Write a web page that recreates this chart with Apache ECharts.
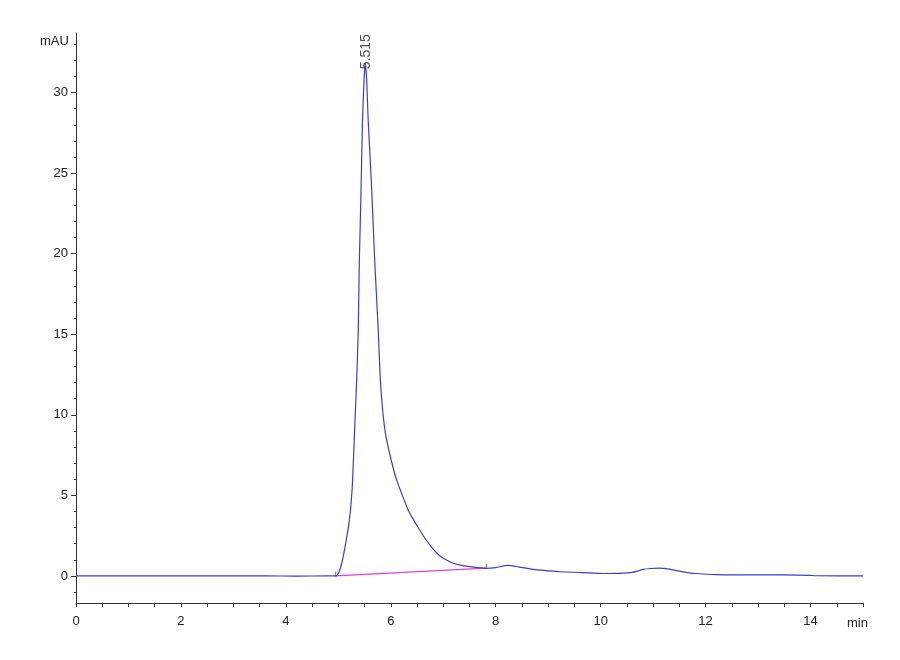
<!DOCTYPE html>
<html lang="en">
<head>
    <meta charset="UTF-8">
    <title>chromatogram</title>
    <script src="https://cdn.jsdelivr.net/npm/echarts@6/dist/echarts.min.js"></script>
    <style>
        html, body { margin: 0; padding: 0; background: #fff; }
    </style>
</head>
<body>
    <div id="main" style="width:900px;height:660px;"></div>
    <script>
        // signal trace (min, mAU)
        let times = [0, 1, 2, 3, 3.6, 4.2, 4.8, 4.95, 5.0, 5.05, 5.09, 5.13, 5.17, 5.20, 5.24, 5.27, 5.31, 5.35, 5.38, 5.40, 5.43, 5.46, 5.49, 5.515,
            5.54, 5.57, 5.63, 5.69, 5.76, 5.80, 5.85, 5.90, 5.95, 6.03, 6.11, 6.22, 6.33, 6.44, 6.55, 6.68, 6.8, 6.9, 7.0, 7.19, 7.35, 7.5,
            7.65, 7.82, 8.0, 8.23, 8.45, 8.71, 9.0, 9.22, 9.66, 10.04, 10.43, 10.6, 10.7, 10.81, 10.95, 11.12, 11.3, 11.44, 11.62,
            11.82, 12.2, 12.84, 13.47, 13.98, 14.1, 15];
        let mAU = [0, 0, 0, 0, 0, -0.01, 0, 0, 0.15, 0.6, 1.15, 1.85, 2.6, 3.2, 4.4, 5.8, 9.07, 12.2, 15.3, 19.5, 23.5, 28.2, 30.8, 31.8,
            30.8, 28.2, 24.4, 19.8, 15.3, 12.2, 10.1, 8.8, 8.0, 6.9, 5.96, 5.0, 4.1, 3.45, 2.85, 2.2, 1.7, 1.35, 1.1, 0.79, 0.65, 0.58,
            0.52, 0.47, 0.52, 0.65, 0.55, 0.41, 0.32, 0.26, 0.21, 0.15, 0.17, 0.22, 0.3, 0.41, 0.46, 0.48, 0.42, 0.33, 0.22,
            0.15, 0.08, 0.06, 0.06, 0.04, 0.01, 0];

        // integration baseline under the main peak
        let baseT = [4.95, 7.82];
        let baseY = [0, 0.48];
        let peakT = 5.515;
        let peakY = 31.8;
        let peakName = '5.515';

        // axis ticks / labels
        let xTicks = [];
        for (let v = 0; v <= 15; v += 0.5) xTicks.push(v);
        let xLabels = [0, 2, 4, 6, 8, 10, 12, 14];
        let yLabels = [0, 5, 10, 15, 20, 25, 30];
        let yMinor = [-1, 0, 1, 2, 3, 4, 5, 6, 7, 8, 9, 10, 11, 12, 13, 14, 15, 16, 17, 18, 19, 20, 21, 22, 23, 24, 25, 26, 27, 28, 29, 30, 31, 32, 33];

        let trace = times.map(function (t, i) { return [t, mAU[i]]; });
        let base = baseT.map(function (t, i) { return [t, baseY[i]]; });

        let font = 'Liberation Sans, Arial, sans-serif';
        let axisColor = '#333';

        let chart = echarts.init(document.getElementById('main'));
        chart.setOption({
            animation: false,
            backgroundColor: '#fff',
            grid: { left: 76, right: 37, top: 33, bottom: 57 },
            xAxis: {
                type: 'value',
                min: 0,
                max: 15,
                axisLine: { onZero: false, lineStyle: { color: axisColor, width: 1 } },
                axisTick: { show: true, customValues: xTicks, length: 4, lineStyle: { color: axisColor } },
                axisLabel: { customValues: xLabels, color: '#222', fontFamily: font, fontSize: 13, margin: 12 },
                splitLine: { show: false }
            },
            yAxis: [{
                type: 'value',
                min: -1.68,
                max: 33.7,
                axisLine: { show: true, onZero: false, lineStyle: { color: axisColor, width: 1 } },
                axisTick: { show: true, customValues: yLabels, length: 5, lineStyle: { color: axisColor } },
                axisLabel: { customValues: yLabels, color: '#222', fontFamily: font, fontSize: 13, margin: 8 },
                splitLine: { show: false }
            }, {
                type: 'value',
                position: 'left',
                min: -1.68,
                max: 33.7,
                axisLine: { show: false },
                axisTick: { show: true, customValues: yMinor, length: 2, lineStyle: { color: axisColor } },
                axisLabel: { show: false },
                splitLine: { show: false }
            }],
            graphic: [
                { type: 'text', left: 40, top: 35, style: { text: 'mAU', font: '13px ' + font, fill: '#222' } },
                { type: 'text', left: 847, top: 617, style: { text: 'min', font: '13px ' + font, fill: '#222' } }
            ],
            series: [{
                type: 'line',
                data: trace,
                showSymbol: false,
                smooth: 0.2,
                lineStyle: { color: '#3c3ccf', width: 1.2 },
                z: 3
            }, {
                type: 'line',
                data: base,
                showSymbol: false,
                lineStyle: { color: '#e23ee0', width: 1.2 },
                z: 2
            }, {
                type: 'scatter',
                data: base,
                symbol: 'rect',
                symbolSize: [1, 5],
                symbolOffset: [0, -2],
                itemStyle: { color: '#555' },
                z: 4
            }, {
                type: 'scatter',
                data: [[peakT, peakY]],
                symbolSize: 0,
                label: {
                    show: true,
                    formatter: peakName,
                    rotate: 90,
                    position: 'inside',
                    offset: [12, 1],
                    color: '#222',
                    fontFamily: font,
                    fontSize: 14
                },
                z: 5
            }]
        });
    </script>
</body>
</html>
